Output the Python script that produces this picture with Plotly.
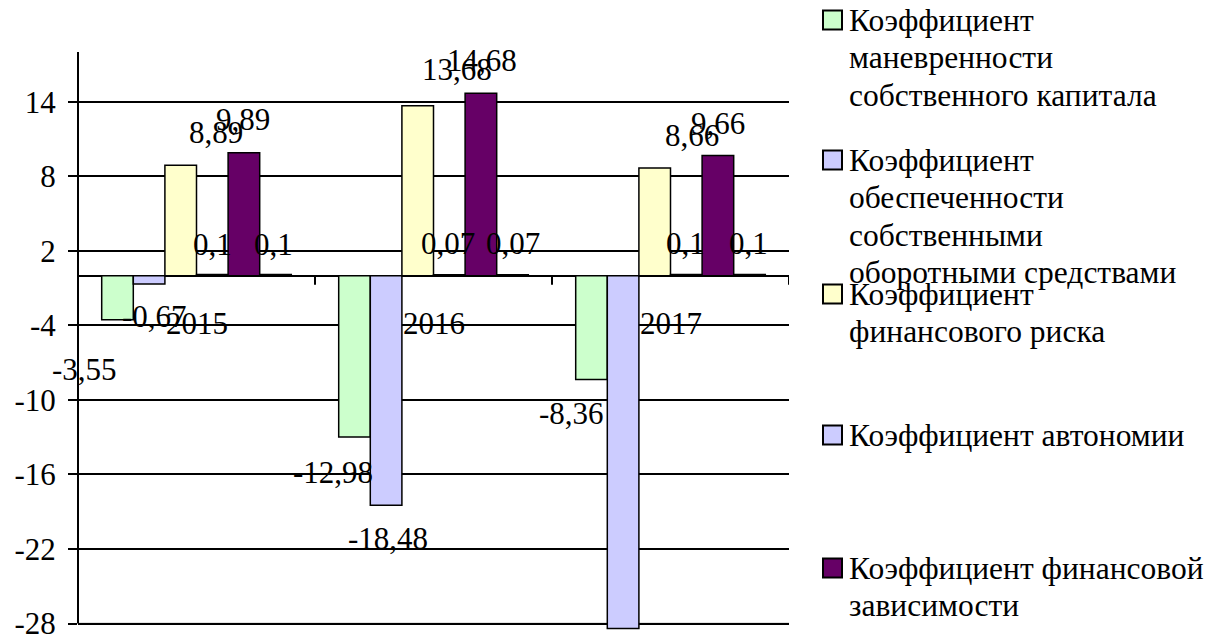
import plotly.graph_objects as go

# ---- data -------------------------------------------------------------
years = ["2015", "2016", "2017"]

series_names = [
    "Коэффициент маневренности собственного капитала",
    "Коэффициент обеспеченности собственными оборотными средствами",
    "Коэффициент финансового риска",
    "Коэффициент автономии",
    "Коэффициент финансовой зависимости",
    "Ряд6",
]
manevr = [-3.55, -12.98, -8.36]
obespech = [-0.67, -18.48, -28.4]
fin_risk = [8.89, 13.68, 8.66]
avtonomiya = [0.1, 0.07, 0.1]
fin_zavis = [9.89, 14.68, 9.66]
ryad6 = [0.1, 0.07, 0.1]
series_values = [manevr, obespech, fin_risk, avtonomiya, fin_zavis, ryad6]

# labels shown for each bar (False = falls outside the chart)
show_label = [
    [True, True, True],
    [True, True, False],
    [True, True, True],
    [True, True, True],
    [True, True, True],
    [True, True, True],
]

y_ticks = [-28, -22, -16, -10, -4, 2, 8, 14]

# legend text, wrapped as in the chart legend
legend_lines = [
    ["Коэффициент", "маневренности", "собственного капитала"],
    ["Коэффициент", "обеспеченности", "собственными", "оборотными средствами"],
    ["Коэффициент", "финансового риска"],
    ["Коэффициент автономии"],
    ["Коэффициент финансовой", "зависимости"],
]

# ---- styles -----------------------------------------------------------
colors = ["#CCFFCC", "#CCCCFF", "#FFFFCC", "#CCCCFF", "#660066", "#FF8080"]
FONT = '"Liberation Serif", "Times New Roman", Tinos, "DejaVu Serif", serif'
FS = 31
FS_LEG = 31.5

W, H = 1211, 634
ML, MR, MT, MB = 78, 422, 52, 3
PW, PH = W - ML - MR, H - MT - MB
Y_RANGE = [-28.6, 18]
BARGAP = 0.2
N = len(series_values)
bar_w = (1 - BARGAP) / N          # bar width in category units

# label nudges in pixels: (dx from bar centre, distance from bar end)
label_nudge = [
    [(-33, 50), (-22, 36), (-20, 34)],
    [(5, 33), (2, 33), (0, 33)],
    [(35, 33), (39, 36), (37, 33)],
    [(0, 30), (-1, 31), (-1, 31)],
    [(-1, 33), (1, 33), (0, 32)],
    [(-2, 30), (0, 31), (-1, 31)],
]

# legend entry centre rows (px from top) and line pitch
legend_rows = [20, 160, 294, 435, 568]
LEG_LINE = 37.5


def px2x(px):
    return (px - ML) / PW


def px2y(py):
    return (H - MB - py) / PH


def fmt(v):
    return f"{v:g}".replace(".", ",")


cat_idx = list(range(len(years)))

fig = go.Figure()
for name, vals, col in zip(series_names, series_values, colors):
    fig.add_trace(go.Bar(
        x=cat_idx, y=vals, name=name,
        marker=dict(color=col, line=dict(color="black", width=1.5)),
        showlegend=False,
    ))

annotations = []
for i, vals in enumerate(series_values):
    for j, v in enumerate(vals):
        if not show_label[i][j]:
            continue
        dx, dd = label_nudge[i][j]
        annotations.append(dict(
            x=j + (i - (N - 1) / 2) * bar_w, y=v, xref="x", yref="y",
            text=fmt(v), showarrow=False,
            xshift=dx, yshift=dd if v >= 0 else -dd,
            xanchor="center", yanchor="middle",
            font=dict(family=FONT, size=FS, color="black"),
        ))

# category names next to the zero line
for j, yr in enumerate(years):
    annotations.append(dict(
        x=j, y=0, xref="x", yref="y", text=yr, showarrow=False,
        yshift=-48, xanchor="center", yanchor="middle",
        font=dict(family=FONT, size=FS, color="black"),
    ))

shapes = []
# vertical value axis line
shapes.append(dict(type="line", xref="paper", yref="y", x0=0, x1=0,
                   y0=y_ticks[0], y1=Y_RANGE[1],
                   line=dict(color="black", width=2), layer="above"))
# lowest gridline is light grey
shapes.append(dict(type="line", xref="paper", yref="y", x0=0, x1=1,
                   y0=y_ticks[0], y1=y_ticks[0],
                   line=dict(color="#C8C8C8", width=2), layer="between"))
# category boundary tick marks on the zero line
for k in range(1, len(years) + 1):
    shapes.append(dict(type="line", xref="x", yref="y",
                       ysizemode="pixel", yanchor=0,
                       x0=k - 0.5, x1=k - 0.5, y0=0, y1=-9,
                       line=dict(color="black", width=2), layer="above"))

# legend: swatches and text lines
for row, lines, col in zip(legend_rows, legend_lines, colors):
    shapes.append(dict(type="rect", xref="paper", yref="paper",
                       x0=px2x(823), x1=px2x(842),
                       y0=px2y(row + 9.5), y1=px2y(row - 9.5),
                       fillcolor=col, line=dict(color="black", width=2)))
    for k, line in enumerate(lines):
        annotations.append(dict(
            x=px2x(848), y=px2y(row + k * LEG_LINE),
            xref="paper", yref="paper",
            text=line, showarrow=False, align="left",
            xanchor="left", yanchor="middle", borderpad=0,
            font=dict(family=FONT, size=FS_LEG, color="black"),
        ))

fig.update_layout(
    width=W, height=H,
    margin=dict(l=ML, r=MR, t=MT, b=MB, pad=0, autoexpand=False),
    paper_bgcolor="white", plot_bgcolor="white",
    barmode="group", bargap=BARGAP, bargroupgap=0,
    showlegend=False,
    font=dict(family=FONT, size=FS, color="black"),
    xaxis=dict(range=[-0.5, len(years) - 0.5], automargin=False,
               showticklabels=False, showgrid=False, zeroline=False,
               showline=False, ticks=""),
    yaxis=dict(range=Y_RANGE, tickvals=y_ticks, automargin=False,
               ticktext=[str(t) for t in y_ticks],
               showgrid=True, gridcolor="black", gridwidth=1.6,
               zeroline=True, zerolinecolor="black", zerolinewidth=2,
               showline=False, ticks="outside", ticklen=9, tickwidth=2,
               tickcolor="black", ticklabelstandoff=6,
               ticklabeloverflow="allow",
               tickfont=dict(family=FONT, size=FS, color="black")),
    annotations=annotations, shapes=shapes,
)

fig.write_html("out.html")
